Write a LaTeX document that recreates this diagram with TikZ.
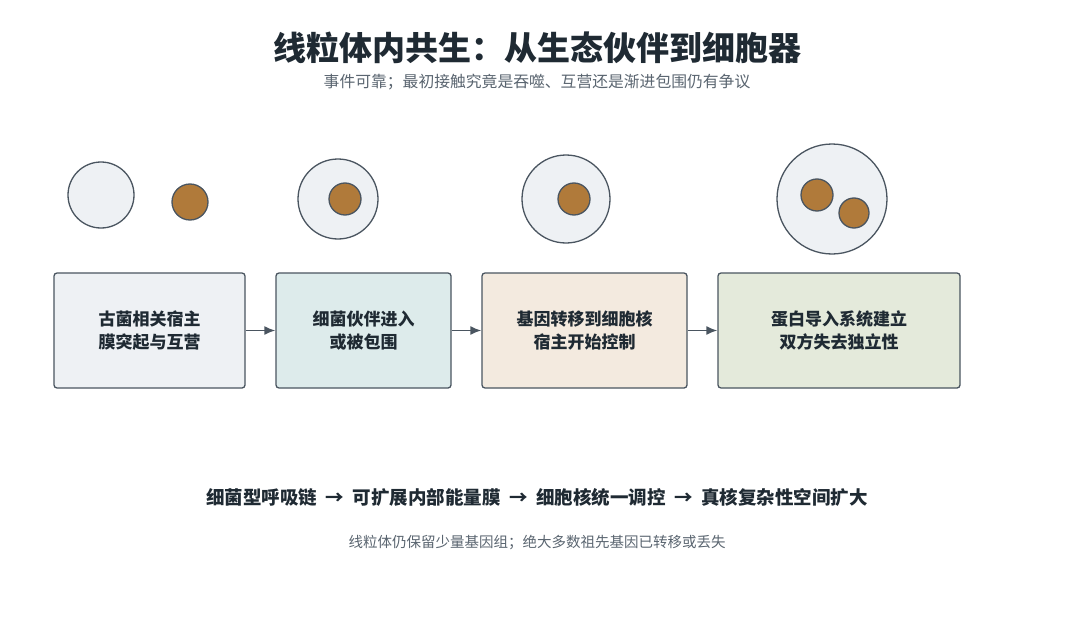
\documentclass[tikz,border=0pt]{standalone}
\usepackage{fontspec}
\setmainfont{Noto Sans CJK SC}
\usepackage{tikz}
\usetikzlibrary{arrows.meta}
\definecolor{edge}{HTML}{4A5560}
\definecolor{cell}{HTML}{EEF1F4}
\definecolor{core}{HTML}{B07A3A}
\definecolor{stepA}{HTML}{EEF1F4}
\definecolor{stepB}{HTML}{DDEBEB}
\definecolor{stepC}{HTML}{F3EADF}
\definecolor{stepD}{HTML}{E4EADB}
\definecolor{txt}{HTML}{1F2A33}
\definecolor{subtxt}{HTML}{5A6570}
\tikzset{
  host/.style={draw=edge,line width=1.3pt,fill=cell},
  bact/.style={draw=edge,line width=1.3pt,fill=core},
  stage/.style={draw=edge,line width=1.3pt,rounded corners=3pt,inner sep=0pt,
    font=\fontsize{17}{23}\selectfont\bfseries,text=txt,align=center},
  flow/.style={-{Latex[length=11pt,width=9pt]},draw=edge,line width=1.6pt}
}
\begin{document}
\begin{tikzpicture}[x=1pt,y=1pt,yscale=-1]
    \useasboundingbox[fill=white] (0,0) rectangle (1074,626);
    % titles
    \node (title) at (537,48) [font=\fontsize{33}{38}\selectfont\bfseries,text=txt] {线粒体内共生：从生态伙伴到细胞器};
    \node (sub) at (537,82) [font=\fontsize{15.8}{20}\selectfont,text=subtxt] {事件可靠；最初接触究竟是吞噬、互营还是渐进包围仍有争议};
    % cells
    \draw[host] (101,195) circle (33);
    \draw[bact] (190,202) circle (18);
    \draw[host] (338,199) circle (40);
    \draw[bact] (345,199) circle (16);
    \draw[host] (566,199) circle (44);
    \draw[bact] (574,199) circle (16);
    \draw[host] (832,199) circle (55);
    \draw[bact] (817,195) circle (16);
    \draw[bact] (854,213) circle (15);
    % stages
    \node (s1) [stage,fill=stepA,minimum width=191,minimum height=115] at (149.5,330.5) {古菌相关宿主\\膜突起与互营};
    \node (s2) [stage,fill=stepB,minimum width=175,minimum height=115] at (363.5,330.5) {细菌伙伴进入\\或被包围};
    \node (s3) [stage,fill=stepC,minimum width=205,minimum height=115] at (584.5,330.5) {基因转移到细胞核\\宿主开始控制};
    \node (s4) [stage,fill=stepD,minimum width=242,minimum height=115] at (839,330.5) {蛋白导入系统建立\\双方失去独立性};
    \draw[flow] (s1) -- (s2);
    \draw[flow] (s2) -- (s3);
    \draw[flow] (s3) -- (s4);
    % summary
    \node (chain) at (537,497) [font=\fontsize{18.5}{24}\selectfont\bfseries,text=txt] {细菌型呼吸链\ \ →\ \ 可扩展内部能量膜\ \ →\ \ 细胞核统一调控\ \ →\ \ 真核复杂性空间扩大};
    \node (note) at (537,542) [font=\fontsize{14.5}{18}\selectfont,text=subtxt] {线粒体仍保留少量基因组；绝大多数祖先基因已转移或丢失};
\end{tikzpicture}
\end{document}
